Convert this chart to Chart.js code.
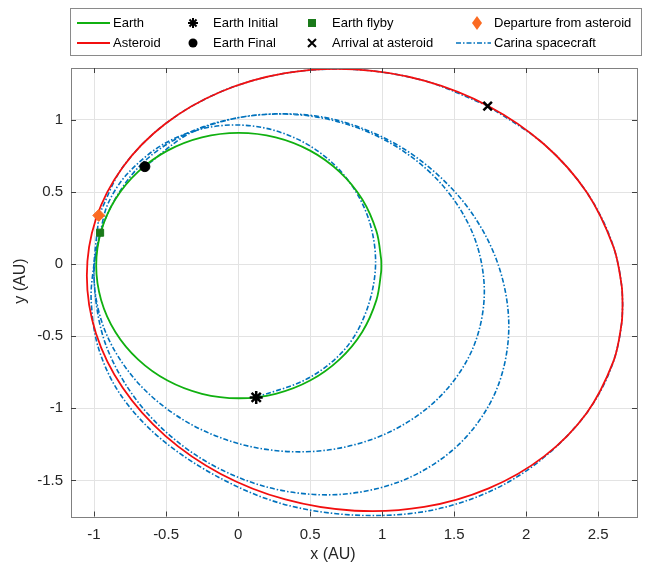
<!DOCTYPE html>
<html lang="en">
<head>
<meta charset="UTF-8">
<title>Carina trajectory</title>
<script src="https://cdn.jsdelivr.net/npm/chart.js@4"></script>
<style>
  html, body { margin: 0; padding: 0; background: #fff; }
  #wrap { width: 646px; height: 566px; position: relative; }
</style>
</head>
<body>
<div id="wrap"><canvas id="orbitChart"></canvas></div>
<script>
// axis ticks
const xTicks = [-1, -0.5, 0, 0.5, 1, 1.5, 2, 2.5];
const yTicks = [-1.5, -1, -0.5, 0, 0.5, 1];

// orbits, [x, y] in AU
const earthOrbit = [
  [0.995, -0.01], [0.993, 0.038], [0.961, 0.228], [0.862, 0.45], [0.705, 0.64], [0.5, 0.787],
  [0.261, 0.879], [0.005, 0.91], [-0.251, 0.879], [-0.49, 0.787], [-0.695, 0.64],
  [-0.852, 0.45], [-0.951, 0.228], [-0.985, -0.01], [-0.951, -0.248], [-0.852, -0.47],
  [-0.695, -0.66], [-0.49, -0.807], [-0.251, -0.899], [0.005, -0.93], [0.261, -0.899],
  [0.5, -0.807], [0.705, -0.66], [0.862, -0.47], [0.961, -0.248], [0.993, -0.058], [0.995, -0.01]
];
const asteroidOrbit = [
  [2.67, -0.28], [2.663, -0.146], [2.607, 0.119], [2.421, 0.498], [2.125, 0.831], [1.74, 1.095],
  [1.292, 1.272], [0.81, 1.35], [0.328, 1.324], [-0.12, 1.195], [-0.505, 0.973],
  [-0.801, 0.672], [-0.987, 0.313], [-1.05, -0.08], [-0.987, -0.479], [-0.801, -0.858],
  [-0.505, -1.191], [-0.12, -1.455], [0.328, -1.632], [0.81, -1.71], [1.292, -1.684],
  [1.74, -1.555], [2.125, -1.333], [2.421, -1.032], [2.607, -0.673], [2.663, -0.413], [2.67, -0.28]
];

// spacecraft legs
const carinaLeg1 = [ // Earth initial -> Earth flyby
  [0.126, -0.924], [0.49, -0.79], [0.75, -0.58], [0.9, -0.3], [0.955, 0.02],
  [0.896, 0.343], [0.727, 0.628], [0.468, 0.838], [0.149, 0.951], [-0.189, 0.951],
  [-0.508, 0.838], [-0.767, 0.628], [-0.903, 0.42], [-0.958, 0.218]
];
const carinaLeg2 = [ // flyby -> arrival
  [-0.958, 0.218], [-1.0, 0.0], [-1.02, -0.25], [-0.97, -0.58], [-0.82, -0.9],
  [-0.55, -1.2], [-0.15, -1.47], [0.3, -1.66], [0.8, -1.74], [1.3, -1.715],
  [1.74, -1.58], [2.1, -1.36], [2.421, -1.032], [2.607, -0.673], [2.67, -0.28],
  [2.607, 0.119], [2.421, 0.498], [2.125, 0.831], [1.74, 1.095]
];
const carinaLeg3 = [ // riding with the asteroid
  [1.74, 1.095], [1.292, 1.272], [0.81, 1.35], [0.328, 1.324], [-0.12, 1.195],
  [-0.505, 0.973], [-0.801, 0.672], [-0.967, 0.338]
];
const carinaLeg4 = [ // departure -> Earth final, two revolutions
  [-0.967, 0.338], [-1.0, -0.11], [-0.914, -0.571], [-0.663, -0.996], [-0.28, -1.333],
  [0.19, -1.543], [0.69, -1.598], [1.16, -1.493], [1.543, -1.241], [1.794, -0.872],
  [1.88, -0.43], [1.794, 0.031], [1.55, 0.45], [1.15, 0.8], [0.66, 1.005],
  [0.16, 1.036], [-0.3, 0.93], [-0.663, 0.701], [-0.914, 0.331], [-1.0, -0.07],
  [-0.919, -0.474], [-0.683, -0.836], [-0.323, -1.113], [0.119, -1.272], [0.591, -1.293],
  [1.033, -1.173], [1.393, -0.928], [1.629, -0.587], [1.71, -0.19], [1.629, 0.214],
  [1.393, 0.576], [1.033, 0.853], [0.591, 1.012], [0.119, 1.033], [-0.323, 0.913],
  [-0.647, 0.676]
];

// events
const earthInitial = [0.126, -0.924];
const earthFinal = [-0.647, 0.676];
const earthFlyby = [-0.958, 0.218];
const arrival = [1.733, 1.095];
const departure = [-0.967, 0.338];

const GREEN = '#10b010';
const RED = '#f20f0f';
const BLUE = '#0072bd';
const ORANGE = '#fb6a21';
const DKGREEN = '#1a7a1a';
const DASHDOT = [5, 2, 1.5, 2];
const FONT = '"Liberation Sans", Arial, Helvetica, sans-serif';

const toXY = pts => pts.map(p => ({ x: p[0], y: p[1] }));

function lineSet(label, pts, color, order, width, dash) {
  return {
    label: label,
    data: toXY(pts),
    showLine: true,
    borderColor: color,
    borderWidth: width,
    borderDash: dash || [],
    pointRadius: 0,
    tension: 0.33,
    fill: false,
    order: order
  };
}

function markerSet(label, pt, style, color, fill, radius, width) {
  return {
    label: label,
    data: toXY([pt]),
    showLine: false,
    pointStyle: style,
    pointRadius: radius,
    pointBorderColor: color,
    pointBackgroundColor: fill,
    pointBorderWidth: width,
    order: 0
  };
}

// legend drawn by hand (2 rows x 4 columns like the figure)
function drawLegend(ctx) {
  ctx.save();
  ctx.fillStyle = '#fff';
  ctx.fillRect(70, 8, 571, 48);
  ctx.strokeStyle = '#8a8a8a';
  ctx.lineWidth = 1;
  ctx.strokeRect(70.5, 8.5, 571, 47);

  const r1 = 23, r2 = 43;
  ctx.lineWidth = 1.8;
  ctx.strokeStyle = GREEN;
  ctx.beginPath(); ctx.moveTo(77, r1); ctx.lineTo(110, r1); ctx.stroke();
  ctx.strokeStyle = RED;
  ctx.beginPath(); ctx.moveTo(77, r2); ctx.lineTo(110, r2); ctx.stroke();
  ctx.lineWidth = 1.6;
  ctx.strokeStyle = BLUE;
  ctx.setLineDash(DASHDOT);
  ctx.beginPath(); ctx.moveTo(456, r2); ctx.lineTo(491, r2); ctx.stroke();
  ctx.setLineDash([]);

  // asterisk
  ctx.strokeStyle = '#000';
  ctx.lineWidth = 2;
  for (let k = 0; k < 4; k++) {
    const a = k * Math.PI / 4;
    ctx.beginPath();
    ctx.moveTo(193 - 5 * Math.cos(a), r1 - 5 * Math.sin(a));
    ctx.lineTo(193 + 5 * Math.cos(a), r1 + 5 * Math.sin(a));
    ctx.stroke();
  }
  // filled circle
  ctx.fillStyle = '#000';
  ctx.beginPath(); ctx.arc(193, r2, 4.5, 0, Math.PI * 2); ctx.fill();
  // square
  ctx.fillStyle = DKGREEN;
  ctx.fillRect(308, r1 - 4, 8, 8);
  // cross
  ctx.beginPath();
  ctx.moveTo(308, r2 - 4); ctx.lineTo(316, r2 + 4);
  ctx.moveTo(316, r2 - 4); ctx.lineTo(308, r2 + 4);
  ctx.stroke();
  // diamond
  ctx.fillStyle = ORANGE;
  ctx.beginPath();
  ctx.moveTo(477, r1 - 7); ctx.lineTo(482, r1); ctx.lineTo(477, r1 + 7); ctx.lineTo(472, r1);
  ctx.closePath(); ctx.fill();

  ctx.fillStyle = '#000';
  ctx.font = '13px ' + FONT;
  ctx.textBaseline = 'middle';
  ctx.fillText('Earth', 113, r1);
  ctx.fillText('Asteroid', 113, r2);
  ctx.fillText('Earth Initial', 213, r1);
  ctx.fillText('Earth Final', 213, r2);
  ctx.fillText('Earth flyby', 332, r1);
  ctx.fillText('Arrival at asteroid', 332, r2);
  ctx.fillText('Departure from asteroid', 494, r1);
  ctx.fillText('Carina spacecraft', 494, r2);
  ctx.restore();
}

const framePlugin = {
  id: 'frame',
  afterDraw(chart) {
    const ctx = chart.ctx;
    const a = chart.chartArea;
    const sx = chart.scales.x, sy = chart.scales.y;
    ctx.save();
    ctx.strokeStyle = '#808080';
    ctx.lineWidth = 1;
    ctx.strokeRect(Math.round(a.left) + 0.5, Math.round(a.top) + 0.5,
      Math.round(a.right - a.left), Math.round(a.bottom - a.top));
    ctx.strokeStyle = '#404040';
    ctx.beginPath();
    xTicks.forEach(v => {
      const px = Math.round(sx.getPixelForValue(v)) + 0.5;
      ctx.moveTo(px, a.bottom); ctx.lineTo(px, a.bottom - 5);
      ctx.moveTo(px, a.top); ctx.lineTo(px, a.top + 5);
    });
    yTicks.forEach(v => {
      const py = Math.round(sy.getPixelForValue(v)) + 0.5;
      ctx.moveTo(a.left, py); ctx.lineTo(a.left + 5, py);
      ctx.moveTo(a.right, py); ctx.lineTo(a.right - 5, py);
    });
    ctx.stroke();

    // axis titles
    ctx.fillStyle = '#262626';
    ctx.font = '16px ' + FONT;
    ctx.textAlign = 'center';
    ctx.textBaseline = 'middle';
    ctx.fillText('x (AU)', 333, 555);
    ctx.translate(21, 281);
    ctx.rotate(-Math.PI / 2);
    ctx.fillText('y (AU)', 0, 0);
    ctx.restore();
    drawLegend(ctx);
  }
};

new Chart(document.getElementById('orbitChart'), {
  type: 'scatter',
  data: {
    datasets: [
      markerSet('Earth Initial', earthInitial, 'star', '#000', '#000', 6.5, 2.5),
      markerSet('Earth Final', earthFinal, 'circle', '#000', '#000', 5, 1),
      markerSet('Earth flyby', earthFlyby, 'rect', DKGREEN, DKGREEN, 5, 1),
      markerSet('Arrival at asteroid', arrival, 'crossRot', '#000', '#000', 6, 2.5),
      markerSet('Departure from asteroid', departure, 'rectRot', ORANGE, ORANGE, 6, 1),
      lineSet('Asteroid', asteroidOrbit, RED, 2, 1.8),
      lineSet('Earth', earthOrbit, GREEN, 3, 1.8),
      lineSet('Carina spacecraft', carinaLeg1, BLUE, 4, 1.6, DASHDOT),
      lineSet('Carina spacecraft', carinaLeg2, BLUE, 4, 1.6, DASHDOT),
      lineSet('Carina spacecraft', carinaLeg3, BLUE, 4, 1.6, DASHDOT),
      lineSet('Carina spacecraft', carinaLeg4, BLUE, 4, 1.6, DASHDOT)
    ]
  },
  options: {
    responsive: true,
    maintainAspectRatio: false,
    animation: false,
    layout: { padding: { left: 0, right: 8, top: 68, bottom: 0 } },
    plugins: {
      legend: { display: false },
      tooltip: { enabled: false }
    },
    scales: {
      x: {
        type: 'linear',
        min: -1.16,
        max: 2.77,
        afterBuildTicks: axis => { axis.ticks = xTicks.map(v => ({ value: v })); },
        afterFit: axis => { axis.height = 49.5; },
        grid: { color: '#e3e3e3', drawTicks: false },
        border: { display: false },
        ticks: { padding: 9, color: '#262626', font: { family: FONT, size: 15 },
                 callback: v => String(v) }
      },
      y: {
        type: 'linear',
        min: -1.75,
        max: 1.36,
        afterBuildTicks: axis => { axis.ticks = yTicks.map(v => ({ value: v })); },
        afterFit: axis => { axis.width = 71; },
        grid: { color: '#e3e3e3', drawTicks: false },
        border: { display: false },
        ticks: { padding: 8, color: '#262626', font: { family: FONT, size: 15 },
                 callback: v => String(v) }
      }
    }
  },
  plugins: [framePlugin]
});
</script>
</body>
</html>
